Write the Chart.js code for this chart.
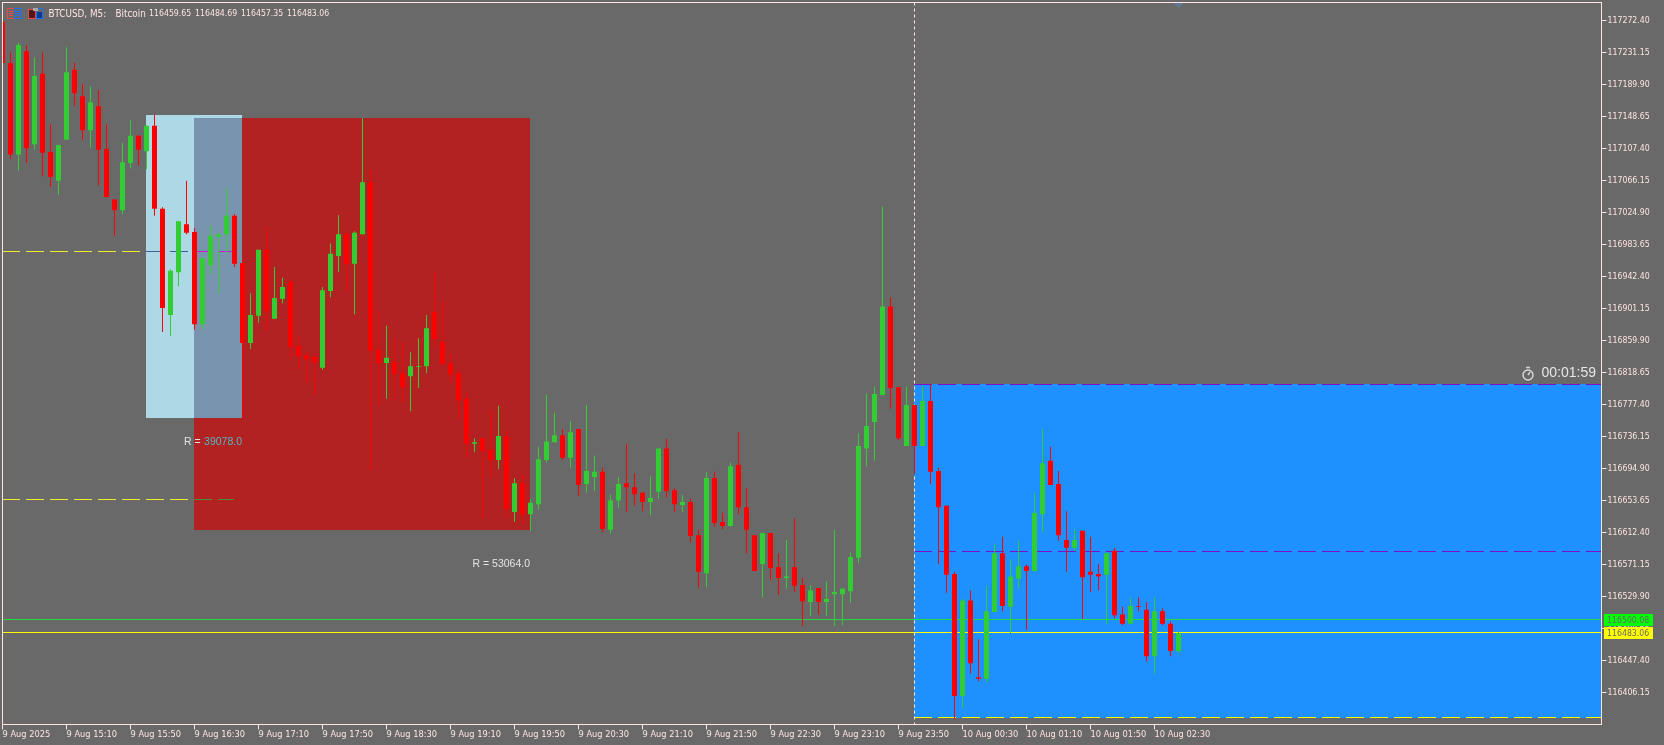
<!DOCTYPE html>
<html>
<head>
<meta charset="utf-8">
<title>BTCUSD M5</title>
<script src="https://cdn.jsdelivr.net/npm/chart.js@4"></script>
<style>
  html, body { margin: 0; padding: 0; background: #696969; overflow: hidden; }
  canvas { display: block; }
</style>
</head>
<body>
<canvas id="chart" width="1664" height="745"></canvas>
<script>
const highs = [
  117271,117231,117244,117241,117225,117231,117139,117112,117238,117218,
  117191,117188,117183,117139,117042,117115,117144,117125,117137,117151,
  117032,116952,117014,117066,117005,116966,117009,116999,117057,117023,
  116964,116921,116977,117006,116955,116941,116938,116866,116845,116843,
  116929,116985,117022,117000,117001,117147,117081,116898,116879,116863,
  116858,116845,116863,116893,116948,116910,116844,116822,116794,116734,
  116734,116771,116776,116743,116683,116688,116656,116723,116790,116767,
  116746,116756,116746,116777,116712,116696,116662,116684,116727,116689,
  116665,116685,116721,116733,116670,116661,116656,116616,116691,116691,
  116638,116703,116742,116670,116609,116612,116612,116586,116603,116631,
  116554,116545,116541,116549,116616,116541,116587,116741,116792,116801,
  117033,116916,116800,116801,116777,116801,116804,116696,116647,116562,
  116527,116538,116475,116544,116598,116607,116578,116602,116571,116664,
  116746,116723,116692,116640,116617,116615,116607,116572,116587,116593,
  116517,116528,116529,116523,116529,116515,116498,116484.69
];
const opens = [
  117271,117218,117100,117233,117113,117204,117103,117066,117119,117209,
  117175,117131,117162,117107,117042,117028,117089,117124,117104,117137,
  117030,116893,116948,117010,117000,116881,116957,116994,116997,117021,
  116960,116857,116892,116977,116888,116914,116936,116853,116841,116839,
  116825,116924,116969,116997,116959,116997,117064,116848,116831,116832,
  116818,116814,116826,116827,116897,116858,116830,116818,116785,116727,
  116734,116719,116706,116736,116639,116676,116636,116649,116706,116729,
  116738,116709,116746,116675,116684,116691,116616,116654,116676,116671,
  116664,116652,116665,116721,116667,116648,116652,116609,116560,116683,
  116626,116621,116700,116645,116609,116572,116612,116568,116554,116568,
  116545,116523,116541,116523,116533,116533,116537,116580,116721,116755,
  116790,116904,116800,116724,116777,116724,116782,116692,116647,116559,
  116402,116525,116426,116424,116510,116586,116517,116553,116569,116563,
  116636,116705,116675,116603,116593,116615,116562,116559,116558,116589,
  116507,116495,116518,116513,116453,116511,116495,116459.65
];
const closes = [
  117218,117100,117241,117108,117201,117102,117071,117112,117206,117179,
  117131,117167,117106,117045,117028,117090,117124,117106,117137,117030,
  116902,116950,117014,116999,116881,116966,116995,116997,117021,116959,
  116857,116893,116977,116898,116915,116929,116852,116840,116836,116832,
  116925,116972,116997,116959,116999,117064,116847,116831,116838,116817,
  116800,116827,116827,116876,116862,116830,116816,116783,116727,116729,
  116718,116706,116737,116643,116676,116636,116651,116707,116730,116738,
  116709,116742,116674,116692,116691,116617,116654,116675,116671,116662,
  116652,116657,116721,116666,116649,116652,116608,116562,116683,116625,
  116621,116698,116645,116616,116563,116612,116567,116554,116556,116544,
  116524,116538,116523,116527,116536,116540,116581,116724,116750,116791,
  116904,116799,116734,116777,116724,116782,116691,116645,116558,116402,
  116525,116444,116424,116511,116586,116518,116556,116569,116563,116638,
  116702,116674,116609,116593,116603,116555,116558,116556,116586,116506,
  116495,116518,116517,116453,116511,116495,116460,116483.06
];
const lows = [
  117218,117094,117079,117089,117106,117072,117058,117048,117119,117162,
  117119,117109,117060,117044,116995,117023,117082,117086,117081,117021,
  116871,116866,116930,116997,116874,116875,116945,116921,116974,116955,
  116760,116849,116883,116872,116888,116908,116836,116823,116805,116790,
  116822,116916,116948,116923,116894,116997,116693,116777,116785,116783,
  116780,116769,116799,116818,116850,116828,116805,116758,116710,116716,
  116630,116684,116694,116633,116626,116625,116615,116642,116703,116729,
  116706,116696,116660,116664,116666,116613,116611,116644,116639,116647,
  116640,116635,116656,116658,116639,116639,116600,116542,116542,116620,
  116617,116620,116636,116586,116563,116529,116551,116532,116540,116536,
  116492,116505,116507,116505,116492,116493,116522,116573,116698,116705,
  116790,116772,116732,116724,116688,116724,116675,116572,116535,116372,
  116386,116431,116421,116420,116510,116511,116483,116540,116487,116562,
  116613,116674,116602,116562,116589,116501,116536,116538,116495,116502,
  116493,116495,116511,116446,116431,116493,116453,116457.35
];

// one label every 8 bars
const timeLabels = ['9 Aug 2025','9 Aug 15:10','9 Aug 15:50','9 Aug 16:30','9 Aug 17:10','9 Aug 17:50',
  '9 Aug 18:30','9 Aug 19:10','9 Aug 19:50','9 Aug 20:30','9 Aug 21:10','9 Aug 21:50','9 Aug 22:30',
  '9 Aug 23:10','9 Aug 23:50','10 Aug 00:30','10 Aug 01:10','10 Aug 01:50','10 Aug 02:30'];
const priceTicks = [117272.40,117231.15,117189.90,117148.65,117107.40,117066.15,117024.90,116983.65,
  116942.40,116901.15,116859.90,116818.65,116777.40,116736.15,116694.90,116653.65,116612.40,116571.15,
  116529.90,116488.65,116447.40,116406.15];

const bid = 116483.06;
const ask = 116500.08;
const midLine = 116588.5;
const boxTop = 116803.6;
const boxBottom = 116373.5;
const upperDash = 116975;
const lowerDash = 116655.4;

// rectangles on the chart: bar from, bar to, price top, price bottom
const zoneLight = [18, 30, 117150.8, 116760.2];
const zoneRed = [24, 66, 117146.9, 116615.8];
const zoneBoth = [24, 30, 117146.9, 116760.2];
const zoneBlue = [114, 199.875, boxTop, boxBottom];
const sessionBar = 114;
const lastBar = 147;

const UP = '#32cd32';
const DOWN = '#ff0000';
const FG = '#ffe4e1';
const FONT = '"DejaVu Sans Condensed", "DejaVu Sans", sans-serif';
const BIGFONT = '"Liberation Sans", sans-serif';

const colors = closes.map((c, i) => c >= opens[i] ? UP : DOWN);
const wicks = highs.map((h, i) => ({ x: i, y: [lows[i], h] }));
const bodies = opens.map((o, i) => ({ x: i, y: [Math.min(o, closes[i]), Math.max(o, closes[i])] }));

function fillZone(chart, zone, color) {
  const { x, y } = chart.scales;
  const left = Math.floor(x.getPixelForValue(zone[0]));
  const right = Math.floor(x.getPixelForValue(zone[1]));
  const top = Math.round(y.getPixelForValue(zone[2]));
  const bottom = Math.round(y.getPixelForValue(zone[3]));
  chart.ctx.fillStyle = color;
  chart.ctx.fillRect(left, top, right - left, bottom - top);
}

function dashLine(chart, price, from, to, color) {
  const { x, y } = chart.scales;
  const ctx = chart.ctx;
  const startX = Math.floor(x.getPixelForValue(from));
  const py = Math.floor(y.getPixelForValue(price)) + 0.5;
  ctx.save();
  ctx.strokeStyle = color;
  ctx.lineWidth = 1;
  ctx.setLineDash([18, 6]);
  ctx.beginPath();
  ctx.moveTo(startX, py);
  ctx.lineTo(Math.floor(x.getPixelForValue(to)), py);
  ctx.stroke();
  ctx.restore();
}

function drawText(ctx, text, px, py, color, font, align) {
  ctx.fillStyle = color;
  ctx.font = font;
  ctx.textAlign = align || 'left';
  ctx.textBaseline = 'middle';
  ctx.fillText(text, px, py);
}

const backdrop = {
  id: 'backdrop',
  beforeDatasetsDraw(chart) {
    const { x, y } = chart.scales;
    const ctx = chart.ctx;
    const area = chart.chartArea;

    fillZone(chart, zoneLight, '#add8e6');
    fillZone(chart, zoneRed, '#b22222');
    fillZone(chart, zoneBoth, '#7894af');
    fillZone(chart, zoneBlue, '#1e90ff');

    // dashed levels, the colour changes over each rectangle
    dashLine(chart, upperDash, 0, 18, '#eeee30');
    dashLine(chart, upperDash, 18, 24, '#3f6090');
    dashLine(chart, upperDash, 24, 29.5, '#c41fc4');
    dashLine(chart, lowerDash, 0, 24, '#eeee30');
    dashLine(chart, lowerDash, 24, 29, '#4b8f35');
    dashLine(chart, boxTop, sessionBar, 199.875, '#7a12c4');
    dashLine(chart, midLine, sessionBar, 199.875, '#7a12c4');
    dashLine(chart, boxBottom, sessionBar, 199.875, '#ffff00');

    ctx.fillStyle = '#1fdc3c';
    ctx.fillRect(area.left, Math.floor(y.getPixelForValue(ask)), area.width, 1);
    ctx.fillStyle = '#ffff00';
    ctx.fillRect(area.left, Math.floor(y.getPixelForValue(bid)), area.width, 1);

    const sx = Math.floor(x.getPixelForValue(sessionBar)) + 0.5;
    ctx.save();
    ctx.strokeStyle = FG;
    ctx.setLineDash([3, 3]);
    ctx.beginPath();
    ctx.moveTo(sx, area.top);
    ctx.lineTo(sx, area.bottom);
    ctx.stroke();
    ctx.restore();
  },
  afterDraw(chart) {
    const { x, y } = chart.scales;
    const ctx = chart.ctx;
    const area = chart.chartArea;

    ctx.strokeStyle = FG;
    ctx.lineWidth = 1;
    ctx.strokeRect(area.left, area.top, area.width, area.height);

    // marker of the last bar
    const tx = x.getPixelForValue(lastBar);
    ctx.fillStyle = '#5f7a97';
    ctx.beginPath();
    ctx.moveTo(tx - 5, 3);
    ctx.lineTo(tx + 5, 3);
    ctx.lineTo(tx, 8);
    ctx.fill();

    // price labels
    const askY = Math.round(y.getPixelForValue(ask));
    const bidY = Math.round(y.getPixelForValue(bid));
    ctx.fillStyle = '#00ff00';
    ctx.fillRect(1604, askY - 6, 49, 12);
    ctx.fillStyle = '#ffff00';
    ctx.fillRect(1604, bidY - 6, 49, 12);
    drawText(ctx, ask.toFixed(2), 1607, askY + 0.5, '#696969', '8.7px ' + FONT);
    drawText(ctx, bid.toFixed(2), 1607, bidY + 0.5, '#696969', '8.7px ' + FONT);

    // chart title
    drawText(ctx, 'BTCUSD, M5:', 48.5, 14, FG, '9.8px ' + FONT);
    drawText(ctx, 'Bitcoin', 115.5, 14, FG, '9.8px ' + FONT);
    ['116459.65', '116484.69', '116457.35', '116483.06'].forEach((t, i) => {
      drawText(ctx, t, 149 + i * 46, 14, FG, '8.7px ' + FONT);
    });

    // toolbar icons
    ctx.lineWidth = 1;
    ctx.strokeStyle = '#f04848';
    ctx.strokeRect(7.5, 8.5, 7, 10);
    ctx.strokeStyle = '#1f6ef0';
    ctx.strokeRect(14.5, 8.5, 7, 10);
    ctx.fillStyle = '#f04848';
    ctx.fillRect(9, 11, 4, 1); ctx.fillRect(9, 13, 4, 1); ctx.fillRect(9, 15, 4, 1);
    ctx.fillStyle = '#1f6ef0';
    ctx.fillRect(16, 11, 4, 1); ctx.fillRect(16, 13, 4, 1); ctx.fillRect(16, 15, 4, 1);
    ctx.fillStyle = '#4a1c1c';
    ctx.fillRect(29, 10, 6, 8);
    ctx.strokeStyle = '#f04848';
    ctx.strokeRect(28.5, 9.5, 7, 9);
    ctx.fillStyle = '#0c3a8c';
    ctx.fillRect(36, 12, 6, 6);
    ctx.strokeStyle = '#1f6ef0';
    ctx.strokeRect(36.5, 8.5, 6, 10);
    ctx.fillStyle = '#a8a8a8';
    ctx.fillRect(33, 8, 5, 3);

    // R labels
    drawText(ctx, 'R = 53064.0', 530, 564, '#e4e4e4', '10.5px ' + BIGFONT, 'right');
    drawText(ctx, 'R = ', 184, 442, '#e4e4e4', '10.5px ' + BIGFONT);
    drawText(ctx, '39078.0', 242, 442, '#4fb8c0', '10.5px ' + BIGFONT, 'right');

    // countdown and its clock
    drawText(ctx, '00:01:59', 1596, 373, '#e6e6e6', '14px ' + BIGFONT, 'right');
    ctx.strokeStyle = '#d8d8d8';
    ctx.lineWidth = 1.4;
    ctx.beginPath();
    ctx.arc(1528, 375, 5, 0, Math.PI * 2);
    ctx.moveTo(1528, 375);
    ctx.lineTo(1530, 372);
    ctx.moveTo(1526, 367.5);
    ctx.lineTo(1530, 367.5);
    ctx.stroke();
  }
};

new Chart(document.getElementById('chart'), {
  type: 'bar',
  data: {
    datasets: [
      { data: wicks, backgroundColor: colors, barThickness: 1, order: 2 },
      { data: bodies, backgroundColor: colors, barThickness: 5, order: 1 }
    ]
  },
  options: {
    responsive: false,
    animation: false,
    events: [],
    layout: { padding: { left: 2.5, top: 2.5, right: 0, bottom: 0 } },
    datasets: { bar: { grouped: false, inflateAmount: 0, borderWidth: 0 } },
    plugins: { legend: { display: false }, tooltip: { enabled: false } },
    scales: {
      x: {
        type: 'linear',
        offset: false,
        min: 0,
        max: 199.875,
        border: { display: false },
        grid: { offset: false, drawOnChartArea: false, color: FG, tickLength: 5 },
        afterBuildTicks: axis => { axis.ticks = timeLabels.map((t, i) => ({ value: i * 8 })); },
        afterFit: axis => { axis.height = 20.5; axis.paddingLeft = 0; axis.paddingRight = 0; },
        ticks: {
          autoSkip: false, maxRotation: 0, minRotation: 0, align: 'start', padding: 0,
          color: FG, font: { family: FONT, size: 9.2 },
          callback: (v, i) => timeLabels[i]
        }
      },
      y: {
        position: 'right',
        min: 116365.10,
        max: 117295.83,
        border: { display: false },
        grid: { drawOnChartArea: false, color: FG, tickLength: 5 },
        afterBuildTicks: axis => { axis.ticks = priceTicks.map(v => ({ value: v })); },
        afterFit: axis => { axis.width = 62.5; axis.paddingTop = 0; axis.paddingBottom = 0; },
        ticks: {
          autoSkip: false, padding: 1, labelOffset: 0.5,
          color: FG, font: { family: FONT, size: 8.7 },
          callback: v => v.toFixed(2)
        }
      }
    }
  },
  plugins: [backdrop]
});
</script>
</body>
</html>
